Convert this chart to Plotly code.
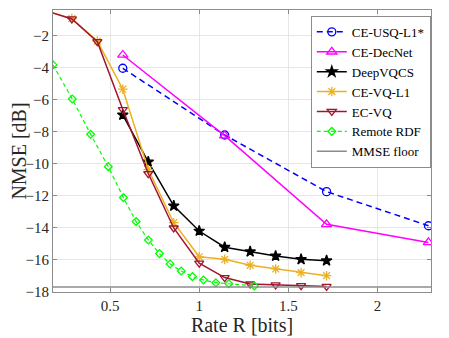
import plotly.graph_objects as go

# rate axis shared by the quantizer curves (k/7 bits)
rate_vq = [1/7, 2/7, 3/7, 4/7, 5/7, 6/7, 1.0, 8/7, 9/7, 10/7, 11/7, 12/7]
rate_coarse = [4/7, 8/7, 12/7, 16/7]
rate_deep = [4/7, 5/7, 6/7, 1.0, 8/7, 9/7, 10/7, 11/7, 12/7]
rate_rdf = [0.18, 0.288, 0.391, 0.49, 0.575, 0.646, 0.715, 0.777, 0.837,
            0.899, 0.962, 1.024, 1.093, 1.166, 1.309]

nmse_usq = [-4.02, -8.19, -11.73, -13.86]
nmse_decnet = [-3.19, -8.23, -13.77, -14.9]
nmse_deepvqcs = [-6.94, -9.87, -12.62, -14.19, -15.2, -15.48, -15.75, -15.96, -16.04]
nmse_cevq = [-0.44, -0.92, -2.32, -5.33, -10.35, -13.67, -15.8, -15.96, -16.33, -16.56, -16.79, -16.98]
nmse_ecvq = [-0.44, -0.94, -2.36, -6.6, -10.6, -14.0, -16.2, -17.1, -17.5, -17.56, -17.6, -17.65]
nmse_rdf = [-3.81, -5.94, -8.14, -10.17, -12.1, -13.6, -14.75, -15.6, -16.25,
            -16.69, -17.04, -17.25, -17.42, -17.48, -17.62]
mmse_floor = -17.69

x_range = [0.18, 2.30]
y_range = [-18, -0.38]
x_ticks = [0.5, 1, 1.5, 2]
y_ticks = [-2, -4, -6, -8, -10, -12, -14, -16, -18]

FONT = 'Liberation Serif'

fig = go.Figure()

def curve(x, y, name, color, symbol, dash='solid', msize=8, width=1.5):
    fig.add_trace(go.Scatter(
        x=x, y=y, name=name, mode='lines+markers',
        line=dict(color=color, width=width, dash=dash),
        marker=dict(symbol=symbol, size=msize, color=color,
                    line=dict(color=color, width=1.3)),
        cliponaxis=True))

curve(rate_coarse, nmse_usq, 'CE-USQ-L1*', '#0000ff', 'circle-open', dash='6px,4px')
curve(rate_coarse, nmse_decnet, 'CE-DecNet', '#ff00ff', 'triangle-up-open', msize=9)
curve(rate_deep, nmse_deepvqcs, 'DeepVQCS', '#000000', 'star', msize=8)
curve(rate_vq, nmse_cevq, 'CE-VQ-L1', '#edb120', 'asterisk-open', msize=8)
curve(rate_vq, nmse_ecvq, 'EC-VQ', '#a2142f', 'triangle-down-open', msize=8)
curve(rate_rdf, nmse_rdf, 'Remote RDF', '#00ff00', 'diamond-open', dash='4px,3px',
      msize=6, width=1.2)

fig.add_trace(go.Scatter(
    x=x_range, y=[mmse_floor, mmse_floor], name='MMSE floor', mode='lines',
    line=dict(color='#8c8c8c', width=1.5)))

axis_common = dict(
    showline=True, mirror='ticks', linecolor='#8c8c8c', linewidth=1,
    ticks='inside', ticklen=4, tickcolor='#8c8c8c',
    showgrid=True, gridcolor='#e6e6e6', gridwidth=1, zeroline=False,
    tickfont=dict(family=FONT, size=15, color='#262626'),
)

# page body has an 8px margin, so the figure is a bit smaller than the window
fig.update_layout(
    width=441, height=330,
    margin=dict(l=45, r=18, t=2, b=46),
    paper_bgcolor='white', plot_bgcolor='white',
    font=dict(family=FONT, color='#262626'),
    xaxis=dict(range=x_range, tickvals=x_ticks, ticktext=['0.5', '1', '1.5', '2'],
               title=dict(text='Rate R [bits]', font=dict(family=FONT, size=20), standoff=3),
               **axis_common),
    yaxis=dict(range=y_range, tickvals=y_ticks,
               title=dict(text='NMSE [dB]', font=dict(family=FONT, size=20), standoff=2),
               **axis_common),
    legend=dict(x=0.682, y=0.979, xanchor='left', yanchor='top',
                bgcolor='white', bordercolor='#8c8c8c', borderwidth=1,
                font=dict(family=FONT, size=13, color='#000000'),
                itemwidth=30, tracegroupgap=0),
    showlegend=True,
)

fig.write_html("out.html")
